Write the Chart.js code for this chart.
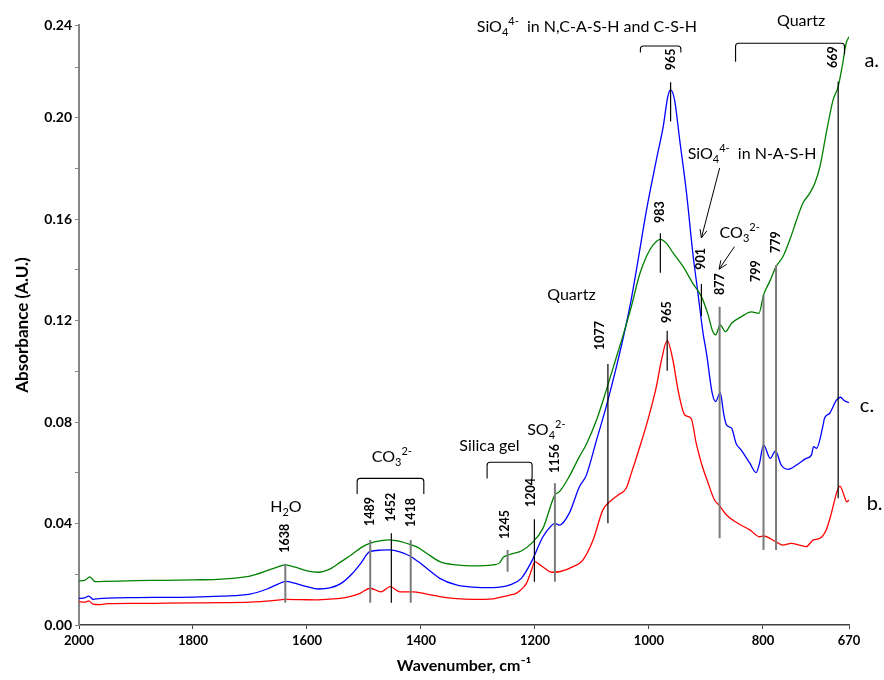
<!DOCTYPE html>
<html>
<head>
<meta charset="utf-8">
<script src="https://cdn.jsdelivr.net/npm/chart.js@4.4.1/dist/chart.umd.min.js"></script>
<style>
  html, body { margin: 0; padding: 0; background: #fff; }
  canvas { display: block; }
</style>
</head>
<body>
<canvas id="ftir" width="884" height="680"></canvas>
<script>
'use strict';

// spectrum a. (green)
var waveA = [2000, 1990, 1981, 1972, 1950, 1900, 1850, 1800, 1750, 1700, 1670, 1650, 1638, 1620, 1600,
  1580, 1560, 1540, 1520, 1505, 1490, 1470, 1455, 1437, 1417, 1405, 1390, 1367, 1338, 1309,
  1274, 1262, 1256, 1244, 1224, 1206, 1186, 1165, 1157, 1140, 1122, 1110, 1092, 1075, 1060,
  1045, 1031, 1016, 1004, 993, 980, 968, 958, 940, 923, 908, 897, 888, 883, 875,
  866, 855, 838, 820, 807, 799, 787, 777, 765, 753, 741, 730, 718, 709, 700,
  689, 677, 668, 660, 654, 649];
var absA = [0.0174, 0.0176, 0.0190, 0.0171, 0.0172, 0.0175, 0.0176, 0.0178, 0.0181, 0.0193, 0.0214, 0.0230, 0.0237, 0.0228, 0.0213,
  0.0208, 0.0220, 0.0250, 0.0280, 0.0305, 0.0322, 0.0333, 0.0336, 0.0330, 0.0316, 0.0305, 0.0283, 0.0250, 0.0237, 0.0233,
  0.0237, 0.0245, 0.0266, 0.0278, 0.0292, 0.0322, 0.0381, 0.0513, 0.0526, 0.0585, 0.0664, 0.0712, 0.0808, 0.0925, 0.1035,
  0.1145, 0.1255, 0.1385, 0.1455, 0.1498, 0.1521, 0.1502, 0.1468, 0.1413, 0.1347, 0.1295, 0.1229, 0.1157, 0.1144, 0.1183,
  0.1157, 0.1190, 0.1216, 0.1235, 0.1229, 0.1301, 0.1360, 0.1413, 0.1452, 0.1518, 0.1597, 0.1663, 0.1702, 0.1742, 0.1807,
  0.1939, 0.2070, 0.2123, 0.2215, 0.2294, 0.2320];

// spectrum c. (blue)
var waveC = [2000, 1990, 1983, 1975, 1965, 1950, 1900, 1850, 1800, 1750, 1700, 1670, 1650, 1638, 1620,
  1600, 1580, 1560, 1540, 1520, 1505, 1490, 1470, 1455, 1437, 1417, 1405, 1390, 1367, 1338,
  1309, 1274, 1256, 1244, 1224, 1206, 1186, 1172, 1165, 1157, 1140, 1122, 1110, 1092, 1075,
  1057, 1040, 1031, 1022, 1004, 987, 975, 967, 962, 955, 946, 934, 923, 914, 905,
  899, 889, 883, 875, 869, 864, 855, 847, 838, 823, 812, 806, 799, 787, 778,
  768, 756, 741, 724, 715, 711, 706, 695, 692, 683, 671, 664, 657, 649];
var absC = [0.0105, 0.0107, 0.0114, 0.0101, 0.0104, 0.0106, 0.0108, 0.0109, 0.0110, 0.0114, 0.0122, 0.0142, 0.0162, 0.0172, 0.0164,
  0.0151, 0.0142, 0.0146, 0.0164, 0.0204, 0.0245, 0.0289, 0.0295, 0.0296, 0.0288, 0.0269, 0.0250, 0.0224, 0.0184, 0.0158,
  0.0149, 0.0147, 0.0151, 0.0158, 0.0184, 0.0250, 0.0348, 0.0390, 0.0401, 0.0394, 0.0440, 0.0545, 0.0590, 0.0729, 0.0861,
  0.1019, 0.1185, 0.1285, 0.1400, 0.1640, 0.1834, 0.1965, 0.2083, 0.2110, 0.2070, 0.1912, 0.1702, 0.1466, 0.1308, 0.1150,
  0.1071, 0.0914, 0.0881, 0.0916, 0.0835, 0.0789, 0.0776, 0.0716, 0.0690, 0.0638, 0.0601, 0.0638, 0.0710, 0.0657, 0.0687,
  0.0631, 0.0614, 0.0631, 0.0657, 0.0670, 0.0703, 0.0697, 0.0782, 0.0815, 0.0835, 0.0887, 0.0898, 0.0884, 0.0877];

// spectrum b. (red)
var waveB = [2000, 1990, 1983, 1975, 1965, 1950, 1900, 1850, 1800, 1750, 1700, 1660, 1638, 1610, 1580,
  1560, 1542, 1525, 1507, 1489, 1470, 1454, 1437, 1415, 1390, 1367, 1338, 1309, 1274, 1262,
  1244, 1233, 1224, 1215, 1206, 1200, 1193, 1183, 1171, 1157, 1133, 1116, 1098, 1081, 1069,
  1054, 1040, 1031, 1016, 1002, 987, 978, 968, 958, 949, 937, 926, 917, 908, 897,
  885, 877, 864, 844, 823, 806, 799, 777, 765, 750, 736, 724, 712, 700, 689,
  680, 671, 665, 658, 653, 649];
var absB = [0.0092, 0.0090, 0.0095, 0.0082, 0.0080, 0.0084, 0.0085, 0.0086, 0.0087, 0.0088, 0.0090, 0.0096, 0.0101, 0.0100, 0.0099,
  0.0102, 0.0105, 0.0112, 0.0125, 0.0145, 0.0131, 0.0151, 0.0131, 0.0131, 0.0122, 0.0112, 0.0104, 0.0101, 0.0103, 0.0109,
  0.0118, 0.0125, 0.0140, 0.0164, 0.0217, 0.0250, 0.0240, 0.0224, 0.0208, 0.0210, 0.0230, 0.0256, 0.0335, 0.0453, 0.0486,
  0.0513, 0.0539, 0.0598, 0.0703, 0.0808, 0.0940, 0.1045, 0.1121, 0.1045, 0.0927, 0.0828, 0.0815, 0.0716, 0.0638, 0.0565,
  0.0493, 0.0473, 0.0434, 0.0401, 0.0375, 0.0348, 0.0351, 0.0328, 0.0315, 0.0322, 0.0315, 0.0309, 0.0335, 0.0342, 0.0375,
  0.0440, 0.0519, 0.0548, 0.0513, 0.0486, 0.0493];

// axis ticks (the last x label reads 670 in the original although it sits at the axis end)
var xTickValues = [2000, 1800, 1600, 1400, 1200, 1000, 800, 649];
var xTickLabels = ['2000', '1800', '1600', '1400', '1200', '1000', '800', '670'];
var yTickValues = [0, 0.02, 0.04, 0.06, 0.08, 0.10, 0.12, 0.14, 0.16, 0.18, 0.20, 0.22, 0.2366];
var yTickLabels = ['0.00', '', '0.04', '', '0.08', '', '0.12', '', '0.16', '', '0.20', '', '0.24'];

// peak markers: wavenumber, line top / bottom, label bottom, optional label wavenumber
var peaks = [
  { text: '1638', w: 1638, top: 0.0241, bottom: 0.0088, labelY: 0.0285, dark: false },
  { text: '1489', w: 1489, top: 0.0335, bottom: 0.0088, labelY: 0.0390, dark: false },
  { text: '1452', w: 1452, top: 0.0362, bottom: 0.0088, labelY: 0.0407, dark: true },
  { text: '1418', w: 1418, top: 0.0335, bottom: 0.0088, labelY: 0.0386, dark: false },
  { text: '1245', w: 1248, top: 0.0296, bottom: 0.0210, labelY: 0.0339, labelW: 1252, dark: false },
  { text: '1204', w: 1201, top: 0.0417, bottom: 0.0171, labelY: 0.0465, labelW: 1207, dark: true },
  { text: '1156', w: 1165, top: 0.0559, bottom: 0.0171, labelY: 0.0599, dark: false },
  { text: '1077', w: 1072, top: 0.1029, bottom: 0.0401, labelY: 0.1084, labelW: 1086, dark: true },
  { text: '965', w: 962, top: 0.2140, bottom: 0.1985, labelY: 0.2188, dark: true },
  { text: '983', w: 980, top: 0.1545, bottom: 0.1389, labelY: 0.1585, dark: true },
  { text: '901', w: 908, top: 0.1345, bottom: 0.1218, labelY: 0.1401, dark: true },
  { text: '877', w: 876, top: 0.1255, bottom: 0.0342, labelY: 0.1301, dark: false },
  { text: '799', w: 799, top: 0.1301, bottom: 0.0296, labelY: 0.1353, labelW: 812, dark: false },
  { text: '779', w: 777, top: 0.1420, bottom: 0.0296, labelY: 0.1467, dark: false },
  { text: '669', w: 668, top: 0.2143, bottom: 0.0500, labelY: 0.2196, labelW: 678, dark: true },
  { text: '965', w: 968, top: 0.1160, bottom: 0.1003, labelY: 0.1191, dark: true }
];

// band names: segments [text, 'sub'|'sup'], anchor wavenumber and baseline absorbance
var bandTexts = [
  { segs: [['H'], ['2', 'sub'], ['O']], w: 1637, a: 0.0447, align: 'center' },
  { segs: [['CO'], ['3', 'sub'], ['2-', 'sup']], w: 1451, a: 0.0642, align: 'center' },
  { segs: [['Silica gel']], w: 1280, a: 0.0686, align: 'center' },
  { segs: [['SO'], ['4', 'sub'], ['2-', 'sup']], w: 1180, a: 0.0749, align: 'center' },
  { segs: [['Quartz']], w: 1136, a: 0.1282, align: 'center' },
  { segs: [['Quartz']], w: 733, a: 0.2362, align: 'center' },
  { segs: [['SiO'], ['4', 'sub'], ['4-', 'sup'], ['  in N,C-A-S-H and C-S-H']], w: 1302, a: 0.2340, align: 'left' },
  { segs: [['SiO'], ['4', 'sub'], ['4-', 'sup'], ['  in N-A-S-H']], w: 932, a: 0.1836, align: 'left' },
  { segs: [['CO'], ['3', 'sub'], ['2-', 'sup']], w: 876, a: 0.1525, align: 'left' }
];

var brackets = [
  { from: 1512, to: 1395, top: 0.0578, legFrom: 0.0517, legTo: 0.0517 },
  { from: 1284, to: 1205, top: 0.0642, legFrom: 0.0578, legTo: 0.0578 },
  { from: 1015, to: 944, top: 0.2283, legFrom: 0.2258, legTo: 0.2258 },
  { from: 848, to: 657, top: 0.2294, legFrom: 0.2221, legTo: 0.2250 }
];

var arrows = [
  { w1: 876, a1: 0.1802, w2: 908, a2: 0.1526 },
  { w1: 850, a1: 0.1492, w2: 877, a2: 0.1403 }
];

var seriesNames = [
  { text: 'a.', w: 622, a: 0.2200 },
  { text: 'c.', w: 630, a: 0.0840 },
  { text: 'b.', w: 618, a: 0.0453 }
];

var fontFamily = "Lato, 'Open Sans', sans-serif";
var textSize = 16;
var scriptSize = 11;

function points(xs, ys) {
  return xs.map(function (x, i) { return { x: x, y: ys[i] }; });
}

function series(label, xs, ys, color) {
  return {
    label: label,
    data: points(xs, ys),
    borderColor: color,
    borderWidth: 1.3,
    pointRadius: 0,
    fill: false,
    cubicInterpolationMode: 'monotone'
  };
}

function drawRich(ctx, segs, x, y, align) {
  var parts = segs.map(function (s) {
    var kind = s[1] || 'normal';
    ctx.font = (kind === 'normal' ? textSize : scriptSize) + 'px ' + fontFamily;
    return { text: s[0], kind: kind, font: ctx.font, width: ctx.measureText(s[0]).width };
  });
  var total = parts.reduce(function (t, p) { return t + p.width; }, 0);
  var cursor = align === 'center' ? x - total / 2 : x;
  ctx.textAlign = 'left';
  ctx.textBaseline = 'alphabetic';
  parts.forEach(function (p) {
    var dy = p.kind === 'sub' ? 4 : (p.kind === 'sup' ? -7 : 0);
    ctx.font = p.font;
    ctx.fillText(p.text, cursor, y + dy);
    cursor += p.width;
  });
}

var annotations = {
  id: 'annotations',
  afterDatasetsDraw: function (chart) {
    var ctx = chart.ctx;
    var xs = chart.scales.x;
    var ys = chart.scales.y;
    ctx.save();

    peaks.forEach(function (p) {
      var x = xs.getPixelForValue(p.w);
      ctx.beginPath();
      ctx.strokeStyle = p.dark ? '#000' : '#7a7a7a';
      ctx.lineWidth = p.dark ? 1.2 : 2;
      ctx.moveTo(x, ys.getPixelForValue(p.top));
      ctx.lineTo(x, ys.getPixelForValue(p.bottom));
      ctx.stroke();

      var lx = xs.getPixelForValue(p.labelW || p.w);
      ctx.save();
      ctx.translate(lx, ys.getPixelForValue(p.labelY));
      ctx.rotate(-Math.PI / 2);
      ctx.fillStyle = '#000';
      ctx.font = 'bold 12.5px ' + fontFamily;
      ctx.textAlign = 'left';
      ctx.textBaseline = 'middle';
      ctx.fillText(p.text, 0, 0);
      ctx.restore();
    });

    ctx.strokeStyle = '#000';
    ctx.lineWidth = 1.1;
    brackets.forEach(function (b) {
      var x1 = xs.getPixelForValue(b.from);
      var x2 = xs.getPixelForValue(b.to);
      var yt = ys.getPixelForValue(b.top);
      var r = 3;
      ctx.beginPath();
      ctx.moveTo(x1, ys.getPixelForValue(b.legFrom));
      ctx.lineTo(x1, yt + r);
      ctx.arcTo(x1, yt, x1 + r, yt, r);
      ctx.lineTo(x2 - r, yt);
      ctx.arcTo(x2, yt, x2, yt + r, r);
      ctx.lineTo(x2, ys.getPixelForValue(b.legTo));
      ctx.stroke();
    });

    arrows.forEach(function (a) {
      var x1 = xs.getPixelForValue(a.w1), y1 = ys.getPixelForValue(a.a1);
      var x2 = xs.getPixelForValue(a.w2), y2 = ys.getPixelForValue(a.a2);
      var ang = Math.atan2(y2 - y1, x2 - x1);
      var head = 9;
      ctx.beginPath();
      ctx.lineWidth = 1;
      ctx.moveTo(x1, y1);
      ctx.lineTo(x2, y2);
      ctx.moveTo(x2 - head * Math.cos(ang - 0.4), y2 - head * Math.sin(ang - 0.4));
      ctx.lineTo(x2, y2);
      ctx.lineTo(x2 - head * Math.cos(ang + 0.4), y2 - head * Math.sin(ang + 0.4));
      ctx.stroke();
    });

    ctx.fillStyle = '#000';
    bandTexts.forEach(function (t) {
      drawRich(ctx, t.segs, xs.getPixelForValue(t.w), ys.getPixelForValue(t.a), t.align);
    });

    ctx.font = '20px ' + fontFamily;
    ctx.textAlign = 'left';
    ctx.textBaseline = 'alphabetic';
    seriesNames.forEach(function (s) {
      ctx.fillText(s.text, xs.getPixelForValue(s.w), ys.getPixelForValue(s.a));
    });

    ctx.restore();
  }
};

new Chart(document.getElementById('ftir'), {
  type: 'line',
  data: {
    datasets: [
      series('a.', waveA, absA, '#008000'),
      series('c.', waveC, absC, '#0000ff'),
      series('b.', waveB, absB, '#ff0000')
    ]
  },
  options: {
    responsive: false,
    animation: false,
    devicePixelRatio: 1,
    layout: { padding: { top: 25, right: 35, left: 0, bottom: 0 } },
    plugins: {
      legend: { display: false },
      tooltip: { enabled: false }
    },
    scales: {
      x: {
        type: 'linear',
        reverse: true,
        min: 649,
        max: 2000,
        afterBuildTicks: function (scale) {
          scale.ticks = xTickValues.map(function (v) { return { value: v }; });
        },
        afterFit: function (scale) { scale.height = 55; },
        ticks: {
          autoSkip: false,
          maxRotation: 0,
          padding: 4,
          color: '#000',
          font: { family: fontFamily, size: 13, weight: 'bold' },
          callback: function (v, i) { return xTickLabels[i]; }
        },
        grid: { drawOnChartArea: false, tickLength: 4, color: '#404040' },
        border: { color: '#404040', width: 1.5 },
        title: {
          display: true,
          text: 'Wavenumber, cm\u207B\u00B9',
          color: '#000',
          font: { family: fontFamily, size: 16, weight: 'bold' },
          padding: { top: 0, bottom: 5 }
        }
      },
      y: {
        min: 0,
        max: 0.2366,
        afterBuildTicks: function (scale) {
          scale.ticks = yTickValues.map(function (v) { return { value: v }; });
        },
        afterFit: function (scale) { scale.width = 79; },
        ticks: {
          autoSkip: false,
          padding: 3,
          color: '#000',
          font: { family: fontFamily, size: 14, weight: 'bold' },
          callback: function (v, i) { return yTickLabels[i]; }
        },
        grid: { drawOnChartArea: false, tickLength: 4, color: '#868686' },
        border: { color: '#868686', width: 2 },
        title: {
          display: true,
          text: 'Absorbance (A.U.)',
          color: '#000',
          font: { family: fontFamily, size: 17, weight: 'bold' },
          padding: { top: 12, bottom: 0 }
        }
      }
    }
  },
  plugins: [annotations]
});
</script>
</body>
</html>
